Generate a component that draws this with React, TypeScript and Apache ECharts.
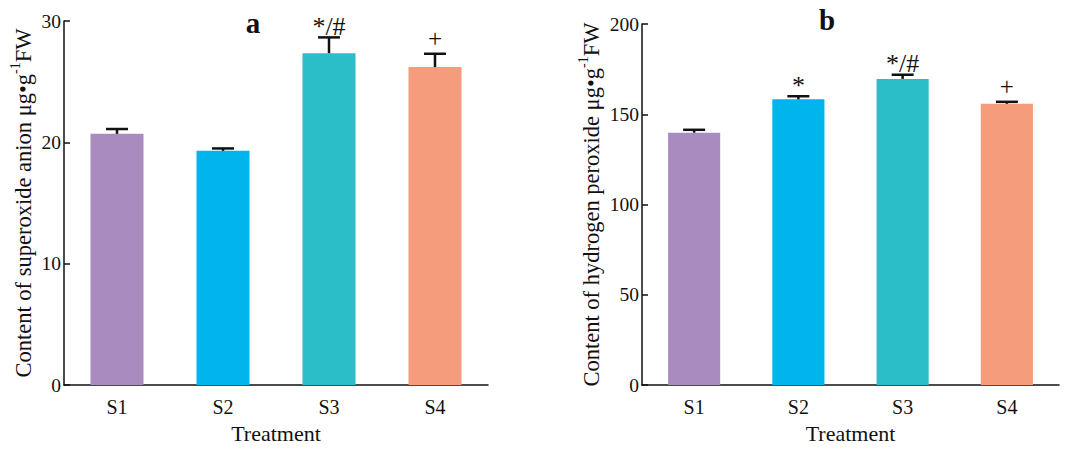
import React, { useEffect, useRef } from "react";
import * as echarts from "echarts";

const categories = ["S1", "S2", "S3", "S4"];
const barColors = ["#A98BC0", "#00B5EC", "#2BBEC8", "#F59C7D"];

const superoxide = [20.7, 19.3, 27.35, 26.2];
const superoxideErr = [0.4, 0.2, 1.3, 1.1];
const superoxideSig = ["", "", "*/#", "+"];

const peroxide = [139.8, 158.3, 169.6, 155.8];
const peroxideErr = [1.6, 1.7, 2.3, 1.1];
const peroxideSig = ["", "*", "*/#", "+"];

const yTicksA = { min: 0, max: 30, interval: 10 };
const yTicksB = { min: 0, max: 200, interval: 50 };

const FONT = '"Liberation Serif", "Times New Roman", serif';

function errSeries(idx: number, vals: number[], errs: number[], sig: string[]) {
  return {
    type: "custom",
    xAxisIndex: idx,
    yAxisIndex: idx,
    z: 5,
    encode: { x: 0, y: 1 },
    data: vals.map((v, i) => [i, v, errs[i]]),
    renderItem: (params: any, api: any) => {
      const x = api.value(0);
      const v = api.value(1);
      const e = api.value(2);
      const base = api.coord([x, v]);
      const top = api.coord([x, v + e]);
      const half = 11;
      const children: any[] = [
        {
          type: "line",
          shape: { x1: base[0], y1: base[1], x2: top[0], y2: top[1] },
          style: { stroke: "#111", lineWidth: 2.5 },
        },
        {
          type: "line",
          shape: { x1: top[0] - half, y1: top[1], x2: top[0] + half, y2: top[1] },
          style: { stroke: "#111", lineWidth: 2.5 },
        },
      ];
      const s = sig[params.dataIndex];
      if (s) {
        const isStar = s.indexOf("*") >= 0;
        children.push({
          type: "text",
          x: top[0],
          y: top[1] + (isStar ? 2 : -3),
          style: {
            text: s,
            fontFamily: FONT,
            fontSize: isStar ? 26 : 25,
            fill: "#111",
            textAlign: "center",
            textVerticalAlign: "bottom",
          },
        });
      }
      return { type: "group", children };
    },
  };
}

function yName(prefix: string) {
  return "{n|" + prefix + " μg•g}{s|-1}{n|FW}";
}

const nameRich = {
  n: { fontFamily: FONT, fontSize: 22.5, color: "#111", lineHeight: 27, verticalAlign: "bottom" },
  s: { fontFamily: FONT, fontSize: 14, color: "#111", lineHeight: 27, verticalAlign: "top" },
};

export default function App() {
  const ref = useRef<HTMLDivElement>(null);
  useEffect(() => {
    document.body.style.margin = "0";
    const chart = echarts.init(ref.current!, null, { renderer: "svg" });
    const xAxisBase = (gridIndex: number) => ({
      type: "category",
      gridIndex,
      data: categories,
      axisLine: { lineStyle: { color: "#111", width: 1.5 } },
      axisTick: { show: false },
      axisLabel: { fontFamily: FONT, fontSize: 20, color: "#111", margin: 12 },
      name: "Treatment",
      nameLocation: "middle",
      nameGap: 33,
      nameTextStyle: { fontFamily: FONT, fontSize: 22, color: "#111" },
    });
    const yAxisBase = (gridIndex: number, t: any, name: string, gap: number) => ({
      type: "value",
      gridIndex,
      min: t.min,
      max: t.max,
      interval: t.interval,
      splitLine: { show: false },
      axisLine: { show: true, lineStyle: { color: "#111", width: 1.5 } },
      axisTick: { show: true, inside: true, length: 6, lineStyle: { color: "#111", width: 1.5 } },
      axisLabel: { fontFamily: FONT, fontSize: 19.5, color: "#111", margin: 3 },
      name,
      nameLocation: "middle",
      nameGap: gap,
      nameTextStyle: { rich: nameRich },
    });
    chart.setOption({
      animation: false,
      backgroundColor: "#fff",
      grid: [
        { left: 64, top: 21, width: 424, height: 371 },
        { left: 642, top: 24, width: 417, height: 368 },
      ],
      xAxis: [xAxisBase(0), xAxisBase(1)],
      yAxis: [
        yAxisBase(0, yTicksA, yName("Content of superoxide anion"), 29),
        yAxisBase(1, yTicksB, yName("Content of hydrogen peroxide"), 39),
      ],
      graphic: [
        {
          type: "text",
          x: 253,
          y: 8,
          style: { text: "a", fontFamily: FONT, fontSize: 29, fontWeight: "bold", fill: "#111", textAlign: "center", textVerticalAlign: "top" },
        },
        {
          type: "text",
          x: 827,
          y: 5,
          style: { text: "b", fontFamily: FONT, fontSize: 29, fontWeight: "bold", fill: "#111", textAlign: "center", textVerticalAlign: "top" },
        },
      ],
      series: [
        {
          type: "bar",
          xAxisIndex: 0,
          yAxisIndex: 0,
          barWidth: "50%",
          data: superoxide.map((v, i) => ({ value: v, itemStyle: { color: barColors[i] } })),
        },
        errSeries(0, superoxide, superoxideErr, superoxideSig),
        {
          type: "bar",
          xAxisIndex: 1,
          yAxisIndex: 1,
          barWidth: "50%",
          data: peroxide.map((v, i) => ({ value: v, itemStyle: { color: barColors[i] } })),
        },
        errSeries(1, peroxide, peroxideErr, peroxideSig),
      ],
    });
    return () => chart.dispose();
  }, []);
  return <div ref={ref} style={{ width: 1067, height: 449 }} />;
}
